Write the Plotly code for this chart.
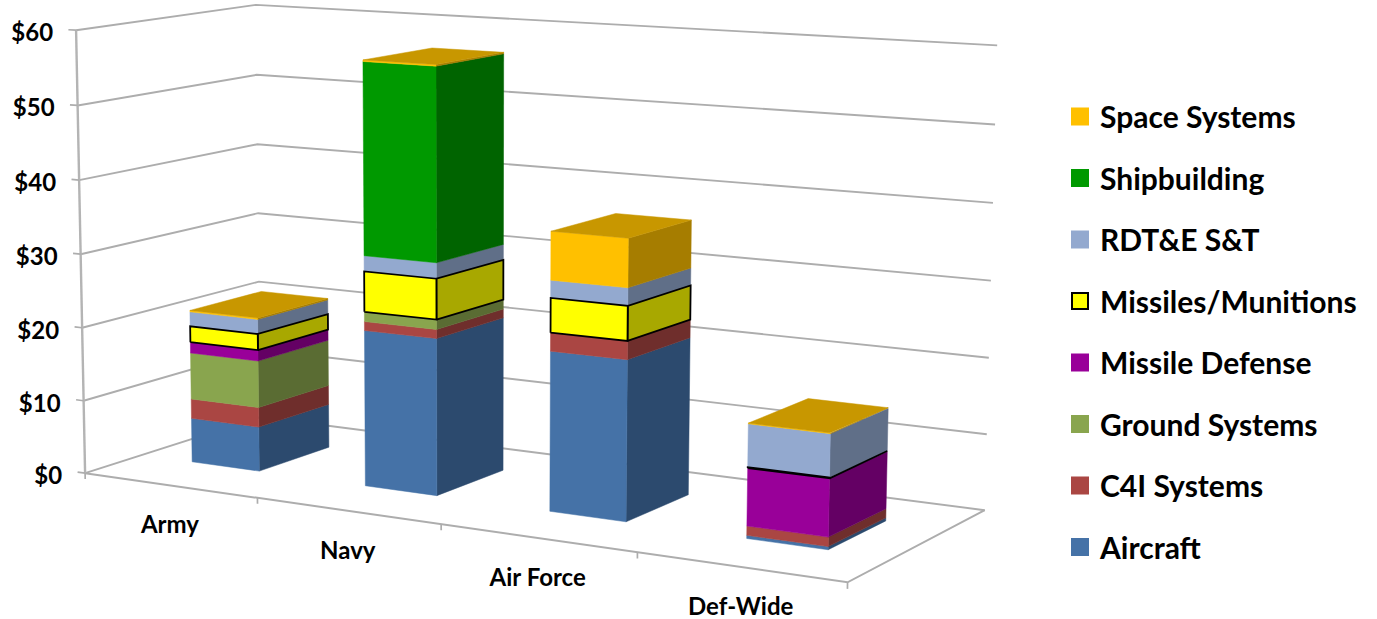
import numpy as np
import plotly.graph_objects as go

# Procurement and RDT&E by service, $ billions
categories = ["Army", "Navy", "Air Force", "Def-Wide"]
aircraft = [6.1, 21.0, 21.0, 0.4]
c4i = [2.7, 1.2, 2.4, 1.2]
ground = [6.4, 1.3, 0.0, 0.0]
missile_defense = [1.5, 0.0, 0.0, 7.4]
missiles = [2.2, 5.4, 4.5, 0.1]
rdte = [2.0, 2.1, 2.3, 5.5]
shipbuilding = [0.0, 25.6, 0.0, 0.0]
space = [0.2, 0.2, 6.3, 0.1]
value_ticks = [0, 10, 20, 30, 40, 50, 60]
value_labels = ["$0", "$10", "$20", "$30", "$40", "$50", "$60"]

series_names = ["Aircraft", "C4I Systems", "Ground Systems", "Missile Defense",
                "Missiles/Munitions", "RDT&E S&T", "Shipbuilding", "Space Systems"]
series_values = [aircraft, c4i, ground, missile_defense, missiles, rdte, shipbuilding, space]
front_colors = ["#4572A7", "#AA4643", "#89A54E", "#990099", "#FFFF00", "#93A9CF", "#009900", "#FFC000"]
side_colors = ["#2C4A6E", "#6F2E2C", "#5A6C33", "#640064", "#A8A800", "#606F88", "#006400", "#A67D00"]
top_color = "#C89700"
grid_color = "#ADADAD"
value_font = dict(family="Lato", size=24, color="#000000", weight=700)
category_font = dict(family="Lato", size=24, color="#000000", weight=700)

# Perspective camera for the chart box: categories run along u, depth along v, value along w
EYE = np.array([7.34362, -12.85714, 2.49112])
YAW, PITCH, ROLL = -0.54879, -0.17687, -0.00266
HALF_X, HALF_Y = 1.87466, 0.70444
FOCAL, PX, PY = 3451.1, 423.02, 302.26
BAR_HALF = 0.1975
BAR_CENTER = 0.4975
BAR_V = (0.31, 0.72)

forward = np.array([np.sin(YAW) * np.cos(PITCH), np.cos(YAW) * np.cos(PITCH), np.sin(PITCH)])
right0 = np.cross(forward, [0, 0, 1.0])
right0 /= np.linalg.norm(right0)
up0 = np.cross(right0, forward)
right = np.cos(ROLL) * right0 + np.sin(ROLL) * up0
up = -np.sin(ROLL) * right0 + np.cos(ROLL) * up0


def project(u, v, w):
    p = np.array([(u / 4 - 0.5) * 2 * HALF_X, (v - 0.5) * 2 * HALF_Y, (w / 60 - 0.5) * 2]) - EYE
    d = p @ forward
    return PX + FOCAL * (p @ right) / d, PY - FOCAL * (p @ up) / d


def polyline(points):
    xs, ys = zip(*[project(*pt) for pt in points])
    return list(xs), list(ys)


def add_lines(fig, segments, color, width):
    xs, ys = [], []
    for seg in segments:
        sx, sy = polyline(seg)
        xs += sx + [None]
        ys += sy + [None]
    fig.add_trace(go.Scatter(x=xs, y=ys, mode="lines", line=dict(color=color, width=width),
                             hoverinfo="skip", showlegend=False))


def add_faces(fig, faces, color, name, outline=None):
    xs, ys = [], []
    for face in faces:
        sx, sy = polyline(face + face[:1])
        xs += sx + [None]
        ys += sy + [None]
    line = dict(color=outline, width=1.8) if outline else dict(color=color, width=0.5)
    fig.add_trace(go.Scatter(x=xs, y=ys, mode="lines", fill="toself", fillcolor=color, line=line,
                             name=name, legendgroup=name, showlegend=False, hoverinfo="skip"))


fig = go.Figure()

# Gridlines on the left and back walls, floor outline and tick stubs
add_lines(fig, [[(0, 0, t), (0, 1, t), (4, 1, t)] for t in value_ticks], grid_color, 1.9)
add_lines(fig, [[(0, 0, 0), (4, 0, 0), (4, 1, 0)]], grid_color, 2.0)
add_lines(fig, [[(0, 0, 0), (0, 0, 60)]], "#B4B4B4", 2.4)
add_lines(fig, [[(0, 0, t), (-0.045, 0, t)] for t in value_ticks], grid_color, 1.7)
add_lines(fig, [[(k, 0, 0), (k, 0, -0.8)] for k in range(5)], grid_color, 1.7)

# Stacked boxes: each segment starts where the previous series ended
totals = np.cumsum(np.array(series_values), axis=0)
draw_order = [i for i in range(len(series_names)) if series_names[i] != "Missiles/Munitions"]
draw_order.append(series_names.index("Missiles/Munitions"))
v0, v1 = BAR_V
for i in draw_order:
    front, side = [], []
    for k in range(len(categories)):
        if series_values[i][k] <= 0:
            continue
        lo, hi = totals[i][k] - series_values[i][k], totals[i][k]
        u0, u1 = k + BAR_CENTER - BAR_HALF, k + BAR_CENTER + BAR_HALF
        front.append([(u0, v0, lo), (u1, v0, lo), (u1, v0, hi), (u0, v0, hi)])
        side.append([(u1, v0, lo), (u1, v1, lo), (u1, v1, hi), (u1, v0, hi)])
    outline = "#000000" if series_names[i] == "Missiles/Munitions" else None
    add_faces(fig, side, side_colors[i], series_names[i], outline)
    add_faces(fig, front, front_colors[i], series_names[i], outline)

lids = []
for k in range(len(categories)):
    u0, u1 = k + BAR_CENTER - BAR_HALF, k + BAR_CENTER + BAR_HALF
    h = totals[-1][k]
    lids.append([(u0, v0, h), (u1, v0, h), (u1, v1, h), (u0, v1, h)])
add_faces(fig, lids, top_color, "Top")

# Value and category labels
tx, ty = zip(*[project(0, 0, t) for t in value_ticks])
fig.add_trace(go.Scatter(x=[a - 23 for a in tx], y=[b + 5 for b in ty], mode="text", text=value_labels,
                         textposition="middle left", textfont=value_font,
                         hoverinfo="skip", showlegend=False))
cx, cy = zip(*[project(k + 0.5, 0, 0) for k in range(len(categories))])
fig.add_trace(go.Scatter(x=cx, y=[b + 42 for b in cy], mode="text", text=categories,
                         textposition="middle center", textfont=category_font,
                         hoverinfo="skip", showlegend=False))

# Legend entries, top of the stack listed first
for i, name in reversed(list(enumerate(series_names))):
    edge = "#000000" if name == "Missiles/Munitions" else front_colors[i]
    fig.add_trace(go.Scatter(x=[None], y=[None], mode="markers", name=name, legendgroup=name,
                             marker=dict(symbol="square", size=16, color=front_colors[i],
                                         line=dict(color=edge, width=2)),
                             hoverinfo="skip"))

fig.update_layout(
    width=1377, height=619, margin=dict(l=0, r=0, t=0, b=0),
    paper_bgcolor="#FFFFFF", plot_bgcolor="#FFFFFF",
    xaxis=dict(range=[0, 1377], visible=False, fixedrange=True),
    yaxis=dict(range=[619, 0], visible=False, fixedrange=True),
    legend=dict(x=1060 / 1377, y=1 - 332 / 619, yanchor="middle", traceorder="grouped",
                tracegroupgap=19.5, font=dict(family="Lato", size=30, color="#000000", weight=700),
                bgcolor="rgba(0,0,0,0)"),
)
fig.write_html("out.html")
